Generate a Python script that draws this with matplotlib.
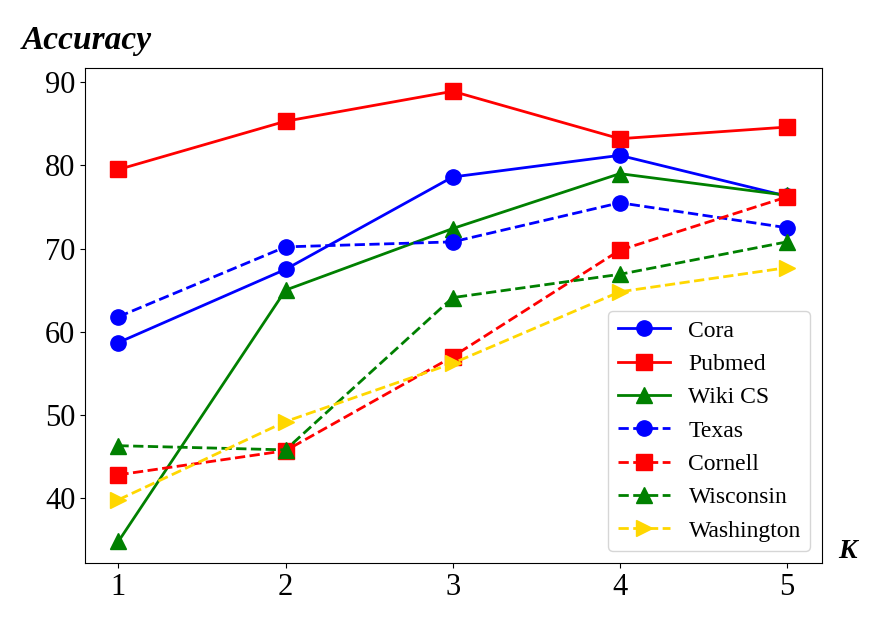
import matplotlib
matplotlib.use("Agg")
import matplotlib.pyplot as plt

K = [1, 2, 3, 4, 5]
cora = [58.7, 67.5, 78.6, 81.2, 76.3]
pubmed = [79.5, 85.3, 88.9, 83.2, 84.6]
wikics = [34.8, 65.0, 72.4, 79.0, 76.4]
texas = [61.8, 70.2, 70.8, 75.5, 72.5]
cornell = [42.8, 45.7, 57.0, 69.8, 76.2]
wisconsin = [46.3, 45.8, 64.1, 66.9, 70.8]
washington = [39.8, 49.2, 56.2, 64.8, 67.7]

plt.rcParams['font.family'] = ['Liberation Serif', 'DejaVu Serif']
fig = plt.figure(figsize=(8.78, 6.3), dpi=100)
ax = fig.add_axes([85/878, 1-563/630, (822-85)/878, (563-68)/630])

ms = 11
ax.plot(K, cora, '-o', color='blue', lw=2, ms=ms, label='Cora')
ax.plot(K, pubmed, '-s', color='red', lw=2, ms=ms, label='Pubmed')
ax.plot(K, wikics, '-^', color='green', lw=2, ms=ms, label='Wiki CS')
ax.plot(K, texas, '--o', color='blue', lw=2, ms=ms, label='Texas')
ax.plot(K, cornell, '--s', color='red', lw=2, ms=ms, label='Cornell')
ax.plot(K, wisconsin, '--^', color='green', lw=2, ms=ms, label='Wisconsin')
ax.plot(K, washington, '-->', color='gold', lw=2, ms=ms, label='Washington')

ax.set_xlim(0.8, 5.21)
ax.set_ylim(32.2, 91.7)
ax.set_xticks(K)
ax.set_yticks([40, 50, 60, 70, 80, 90])
ax.tick_params(labelsize=22)
ax.legend(loc='lower right', fontsize=17, handlelength=2.2)
fig.text(22/878, 1-40/630, 'Accuracy', fontsize=24, fontweight='bold', fontstyle='italic', va='center')
fig.text(838/878, 1-552/630, 'K', fontsize=20, fontweight='bold', fontstyle='italic', va='center')
fig.savefig('out.png', dpi=100)
